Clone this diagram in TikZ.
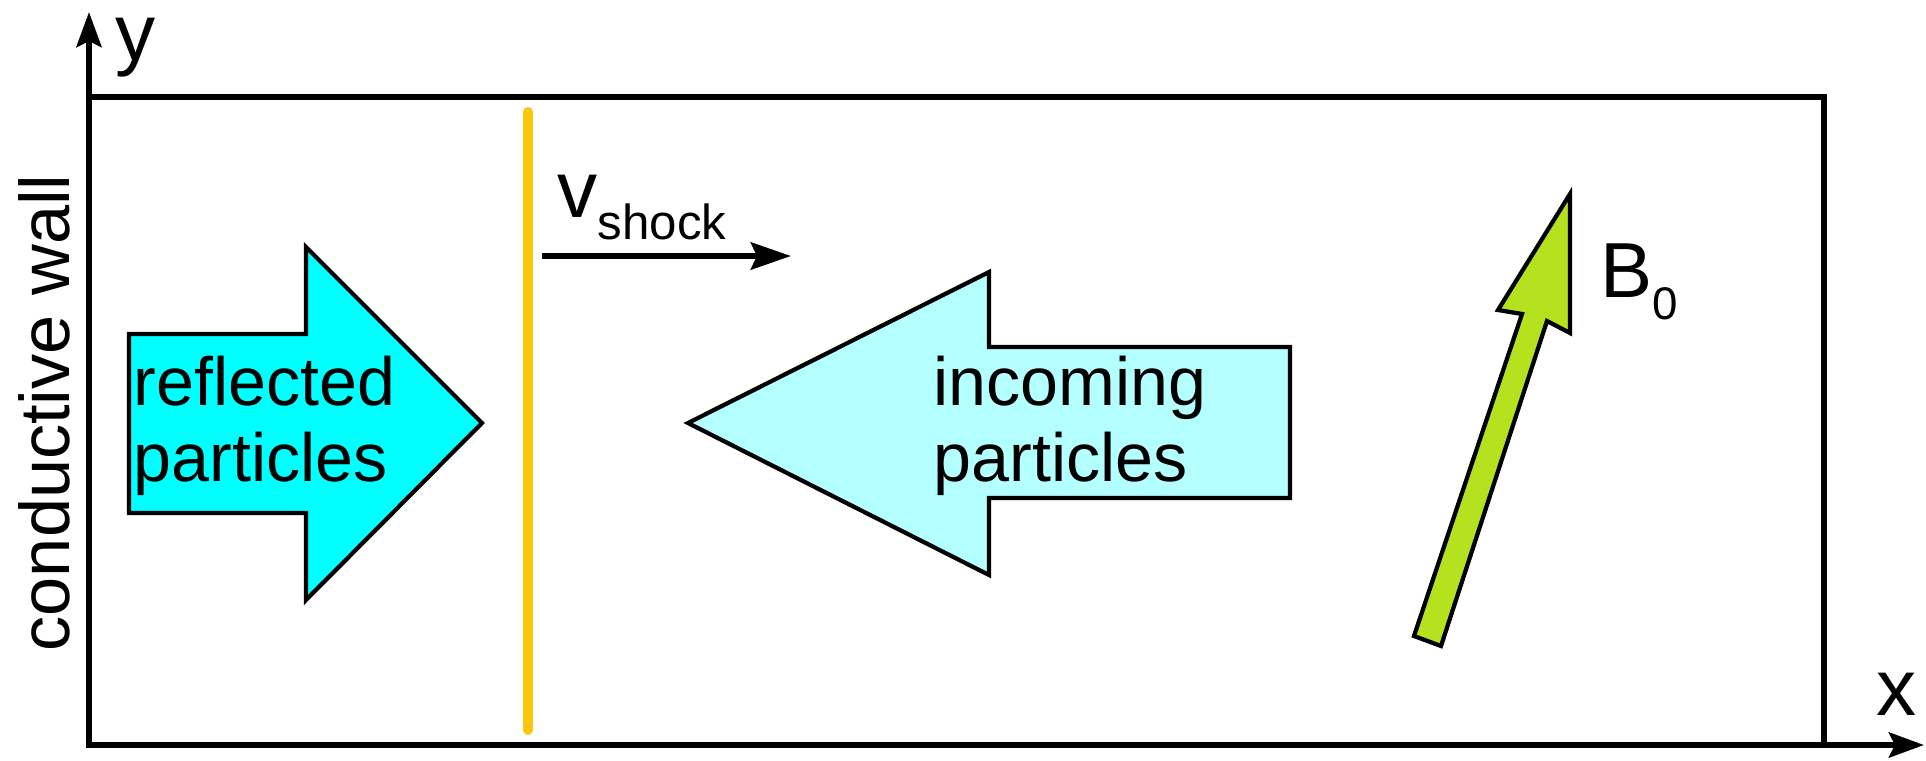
\documentclass[tikz,border=0pt]{standalone}
\usepackage{fontspec}
\setmainfont{Liberation Sans}
\usetikzlibrary{arrows.meta}

\definecolor{shockyellow}{RGB}{255,196,12}
\definecolor{reflcyan}{RGB}{0,255,255}
\definecolor{inccyan}{RGB}{180,255,255}
\definecolor{fieldgreen}{RGB}{180,226,30}

\newcommand\bodyfont{\fontsize{19.4}{22}\selectfont}
\newcommand\bigfont{\fontsize{22.8}{26}\selectfont}
\newcommand\subfont{\fontsize{14}{16}\selectfont}

\begin{document}
\begin{tikzpicture}[x=0.01cm, y=-0.01cm,
    axis/.style={line width=1.7pt, -{Stealth[length=3.5mm, width=2.5mm, inset=0.6mm]}},
    flow/.style={draw, line width=1.2pt, line join=miter},
    txt/.style={anchor=base west, inner sep=0pt, font=\bodyfont}]
    \useasboundingbox (0,0) rectangle (1926,760);

    % domain and axes
    \coordinate (O) at (89,745);
    \coordinate (ytip) at (89,12);
    \coordinate (xtip) at (1924,745);
    \draw[line width=1.7pt] (89,97) rectangle (1824,745);
    \draw[axis] (O) -- (ytip);
    \draw[axis] (O) -- (xtip);
    \node[anchor=base west, inner sep=0pt, font=\bigfont] (ylab) at (115,60) {y};
    \node[anchor=base west, inner sep=0pt, font=\bigfont] (xlab) at (1876,715) {x};
    \node[anchor=base west, inner sep=0pt, rotate=90, font=\fontsize{20}{24}\selectfont] (wall) at (69,652) {conductive wall};

    % shock front
    \coordinate (sh0) at (528,112);
    \coordinate (sh1) at (528,730);
    \draw[shockyellow, line width=2.8pt, line cap=round] (sh0) -- (sh1);
    \coordinate (vs0) at (542,256);
    \coordinate (vs1) at (791,256);
    \draw[line width=1.8pt, -{Stealth[length=4mm, width=2.7mm, inset=0.6mm]}] (vs0) -- (vs1);
    \node[anchor=base west, inner sep=0pt] (vlab) at (557,217)
        {\bigfont v\raisebox{-0.22cm}{\subfont shock}};

    % reflected particles
    \draw[flow, fill=reflcyan] (129,334) -- (306,334) -- (306,247) -- (482,423)
        -- (306,600) -- (306,513) -- (129,513) -- cycle;
    \node[txt] (refl) at (133,405) {reflected};
    \node[txt] (reflb) at (133,481) {particles};

    % incoming particles
    \draw[flow, fill=inccyan] (688,423) -- (989,272) -- (989,347) -- (1290,347)
        -- (1290,498) -- (989,498) -- (989,575) -- cycle;
    \node[txt] (inc) at (933,405) {incoming};
    \node[txt] (incb) at (933,481) {particles};

    % magnetic field
    \draw[flow, fill=fieldgreen] (1414,636) -- (1522,314) -- (1498,310) -- (1570,194)
        -- (1570,333) -- (1547,321) -- (1441,646) -- cycle;
    \node[anchor=base west, inner sep=0pt] (blab) at (1600,297)
        {\fontsize{22.2}{26}\selectfont B\raisebox{-0.22cm}{\fontsize{13}{16}\selectfont 0}};
\end{tikzpicture}
\end{document}
